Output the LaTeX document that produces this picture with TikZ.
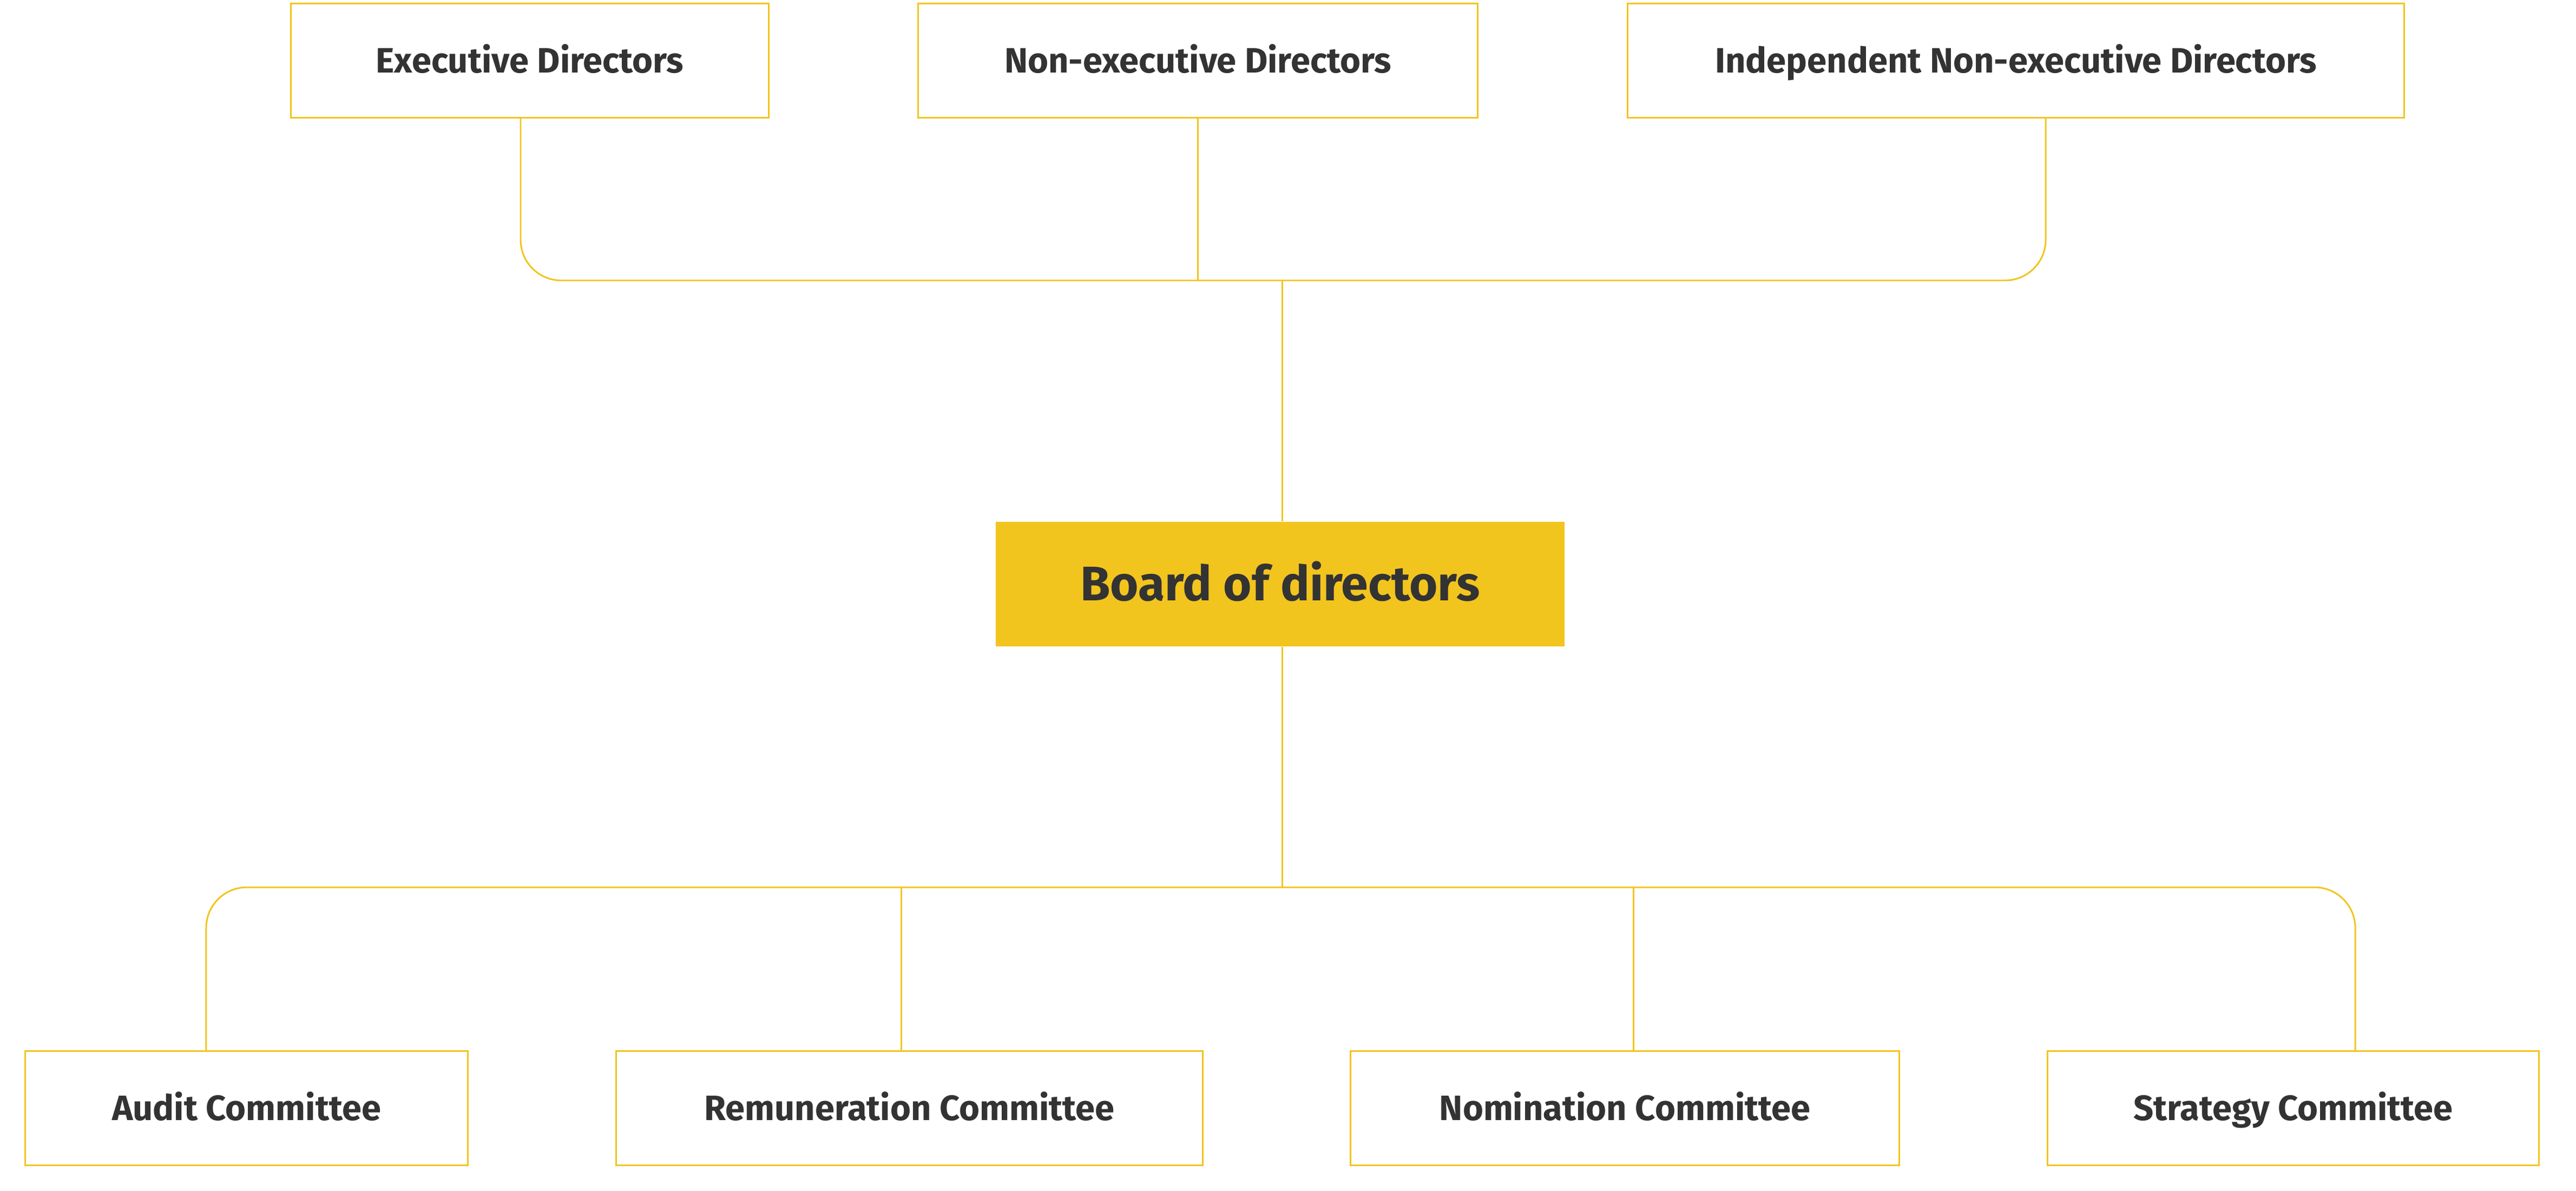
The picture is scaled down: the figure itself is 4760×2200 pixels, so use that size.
\documentclass[tikz,border=0pt]{standalone}
\usepackage{fontspec}
\setmainfont{Fira Sans}
\usetikzlibrary{calc,positioning}
\definecolor{boardyellow}{HTML}{F2C41E}
\definecolor{textgray}{HTML}{333333}

\begin{document}
\begin{tikzpicture}[x=0.01cm, y=-0.01cm,
    member/.style={draw=boardyellow, line width=0.85pt, fill=white, inner sep=0pt,
      minimum height=2.1cm, text=textgray, text height=12.75pt, text depth=0pt,
      font=\fontsize{18.5}{22}\selectfont\bfseries},
    board/.style={fill=boardyellow, inner sep=0pt, minimum width=10.51cm,
      minimum height=2.3cm, text=textgray, text height=17.6pt, text depth=0pt,
      font=\fontsize{25.5}{30}\selectfont\bfseries},
    link/.style={draw=boardyellow, line width=0.85pt},
  ]
  \useasboundingbox (0,0) rectangle (4760,2200);

  \node[member, minimum width=8.82cm] (d1) at (979,112) {Executive Directors};
  \node[member, minimum width=10.33cm] (d2) at (2213.5,112) {Non-executive Directors};
  \node[member, minimum width=14.34cm] (d3) at (3725,112) {Independent Non-executive Directors};

  \node[board] (b) at (2365.5,1079) {Board of directors};

  \node[member, minimum width=8.17cm] (c1) at (455.5,2047) {Audit Committee};
  \node[member, minimum width=10.83cm] (c2) at (1680.5,2047) {Remuneration Committee};
  \node[member, minimum width=10.13cm] (c3) at (3002.5,2047) {Nomination Committee};
  \node[member, minimum width=9.07cm] (c4) at (4237.5,2047) {Strategy Committee};

  \coordinate (t) at (2369,518);
  \coordinate (l) at (2369,1639);

  \draw[link, rounded corners=0.75cm] ([xshift=-0.17cm]d1.south) |- (t) -| ([xshift=0.55cm]d3.south);
  \draw[link] (d2.south) -- (d2.south |- t);
  \draw[link] (t) -- (t |- b.north);
  \draw[link] (t |- b.south) -- (l);
  \draw[link, rounded corners=0.75cm] ([xshift=-0.745cm]c1.north) |- (l) -| ([xshift=1.145cm]c4.north);
  \draw[link] ([xshift=-0.155cm]c2.north) -- ([xshift=-0.155cm]c2.north |- l);
  \draw[link] ([xshift=0.155cm]c3.north) -- ([xshift=0.155cm]c3.north |- l);
\end{tikzpicture}
\end{document}
